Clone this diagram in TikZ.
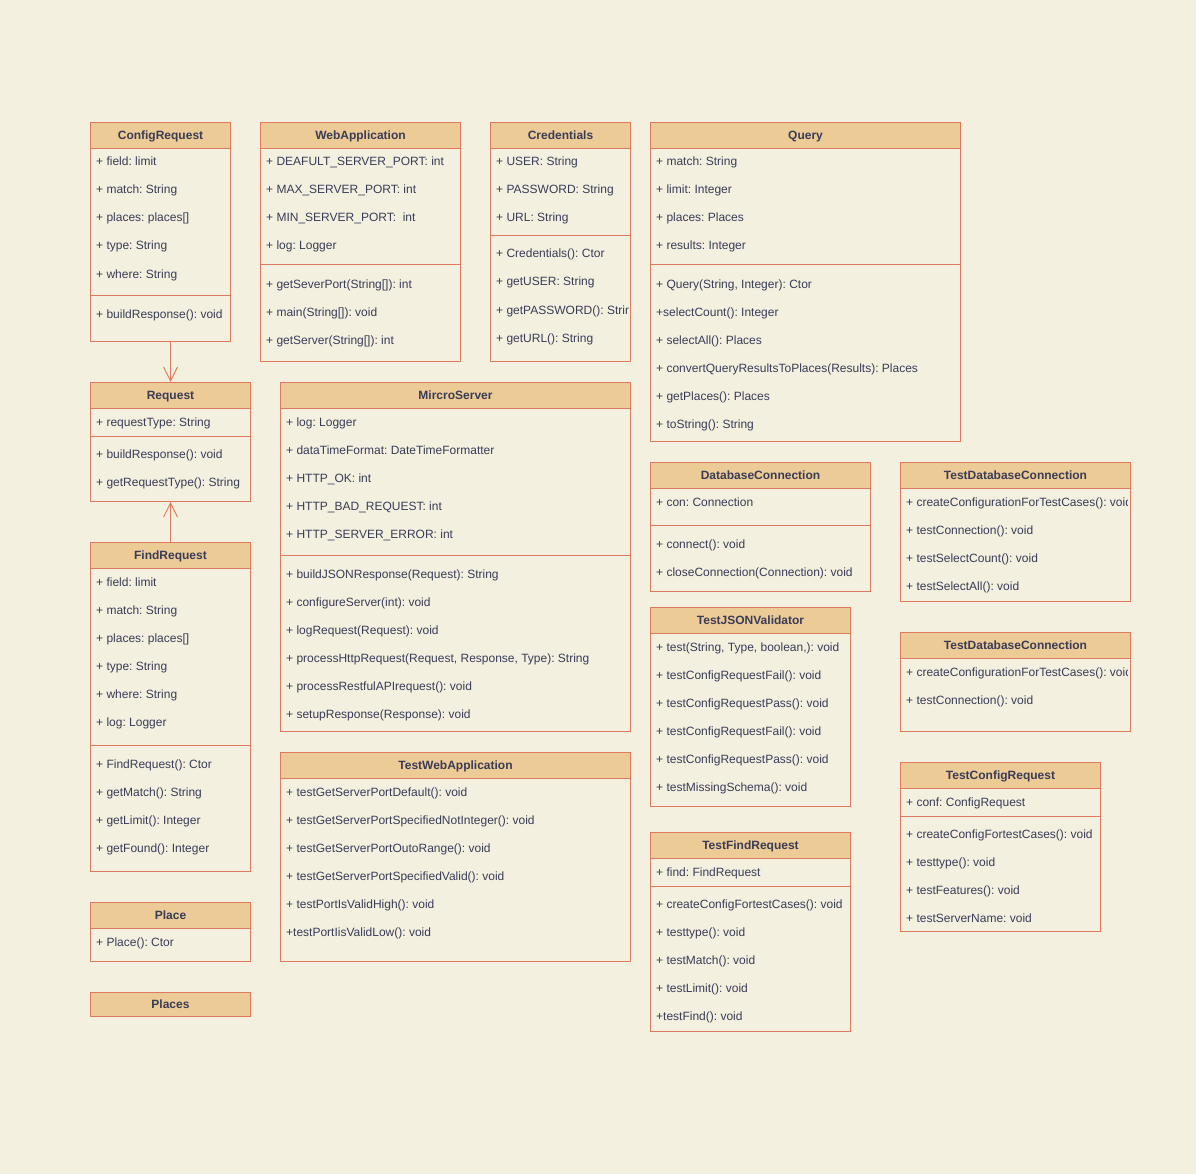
\documentclass[tikz,border=0pt]{standalone}
\usepackage{fontspec}
\setmainfont{Liberation Sans}
\usetikzlibrary{arrows.meta}
\frenchspacing
\definecolor{bgc}{HTML}{F3F0E0}
\definecolor{hdc}{HTML}{EDCB96}
\definecolor{bdc}{HTML}{E07A5F}
\definecolor{txc}{HTML}{393C56}
\tikzset{
  clsbox/.style={draw=bdc, line width=1pt, fill=bgc, inner sep=0pt},
  clshead/.style={draw=bdc, line width=1pt, fill=hdc, inner sep=0pt, minimum height=26pt, text height=10pt, text depth=2pt, text=txc, font=\fontsize{12}{14}\selectfont\bfseries},
  clsrow/.style={inner sep=0pt, text=txc, font=\fontsize{12}{14}\selectfont},
  clsline/.style={draw=bdc, line width=1pt},
  assoc/.style={draw=bdc, line width=1pt, -{Straight Barb[length=14pt,width=14pt]}}
}
\newcommand\umlcls[6]{%
  \node[clsbox, minimum width=#4pt, minimum height=#5pt, anchor=north west] (#1) at (#2,#3) {};
  \node[clshead, minimum width=#4pt, anchor=north west] (#1-title) at (#2,#3) {#6};
}
\newcommand\umlrow[4]{\node[clsrow, anchor=base west] (#1) at (#2+6,#3+5) {#4};}
\newcommand\umlsep[2]{\draw[clsline] (#1.west |- 0,#2) -- (#1.east |- 0,#2);}
\begin{document}
\begin{tikzpicture}[x=1pt,y=-1pt]
\fill[bgc] (0,0) rectangle (1196,1174);
\useasboundingbox (0,0) rectangle (1196,1174);

% ConfigRequest
\umlcls{cfg}{90}{122}{140}{219}{ConfigRequest}
\umlrow{cfg-1}{90}{161}{+ field: limit}
\umlrow{cfg-2}{90}{189}{+ match: String}
\umlrow{cfg-3}{90}{217}{+ places: places[]}
\umlrow{cfg-4}{90}{245}{+ type: String}
\umlrow{cfg-5}{90}{273}{+ where: String}
\umlsep{cfg}{295}
\umlrow{cfg-6}{90}{313}{+ buildResponse(): void}

% WebApplication
\umlcls{web}{260}{122}{200}{239}{WebApplication}
\umlrow{web-1}{260}{161}{+ DEAFULT\_SERVER\_PORT: int}
\umlrow{web-2}{260}{189}{+ MAX\_SERVER\_PORT: int}
\umlrow{web-3}{260}{217}{+ MIN\_SERVER\_PORT:\ \ int}
\umlrow{web-4}{260}{245}{+ log: Logger}
\umlsep{web}{265}
\umlrow{web-5}{260}{283}{+ getSeverPort(String[]): int}
\umlrow{web-6}{260}{311}{+ main(String[]): void}
\umlrow{web-7}{260}{339}{+ getServer(String[]): int}

% Credentials
\umlcls{cred}{490}{122}{140}{239}{Credentials}
\begin{scope}
\clip (491,148) rectangle (628,360);
\umlrow{cred-1}{490}{161}{+ USER: String}
\umlrow{cred-2}{490}{189}{+ PASSWORD: String}
\umlrow{cred-3}{490}{217}{+ URL: String}
\umlrow{cred-4}{490}{253}{+ Credentials(): Ctor}
\umlrow{cred-5}{490}{281}{+ getUSER: String}
\umlrow{cred-6}{490}{309}{+ getPASSWORD(): String}
\umlrow{cred-7}{490}{337}{+ getURL(): String}
\end{scope}
\umlsep{cred}{236}

% Query
\umlcls{query}{650}{122}{310}{319}{Query}
\umlrow{query-1}{650}{161}{+ match: String}
\umlrow{query-2}{650}{189}{+ limit: Integer}
\umlrow{query-3}{650}{217}{+ places: Places}
\umlrow{query-4}{650}{245}{+ results: Integer}
\umlsep{query}{265}
\umlrow{query-5}{650}{283}{+ Query(String, Integer): Ctor}
\umlrow{query-6}{650}{311}{+selectCount(): Integer}
\umlrow{query-7}{650}{339}{+ selectAll(): Places}
\umlrow{query-8}{650}{367}{+ convertQueryResultsToPlaces(Results): Places}
\umlrow{query-9}{650}{395}{+ getPlaces(): Places}
\umlrow{query-10}{650}{423}{+ toString(): String}

% Request
\umlcls{req}{90}{382}{160}{119}{Request}
\umlrow{req-1}{90}{421}{+ requestType: String}
\umlsep{req}{436}
\umlrow{req-2}{90}{453}{+ buildResponse(): void}
\umlrow{req-3}{90}{481}{+ getRequestType(): String}

% MircroServer
\umlcls{ms}{280}{382}{350}{349}{MircroServer}
\umlrow{ms-1}{280}{421}{+ log: Logger}
\umlrow{ms-2}{280}{449}{+ dataTimeFormat: DateTimeFormatter}
\umlrow{ms-3}{280}{477}{+ HTTP\_OK: int}
\umlrow{ms-4}{280}{505}{+ HTTP\_BAD\_REQUEST: int}
\umlrow{ms-5}{280}{533}{+ HTTP\_SERVER\_ERROR: int}
\umlsep{ms}{555}
\umlrow{ms-6}{280}{573}{+ buildJSONResponse(Request): String}
\umlrow{ms-7}{280}{601}{+ configureServer(int): void}
\umlrow{ms-8}{280}{629}{+ logRequest(Request): void}
\umlrow{ms-9}{280}{657}{+ processHttpRequest(Request, Response, Type): String}
\umlrow{ms-10}{280}{685}{+ processRestfulAPIrequest(): void}
\umlrow{ms-11}{280}{713}{+ setupResponse(Response): void}

% FindRequest
\umlcls{find}{90}{542}{160}{329}{FindRequest}
\umlrow{find-1}{90}{581}{+ field: limit}
\umlrow{find-2}{90}{609}{+ match: String}
\umlrow{find-3}{90}{637}{+ places: places[]}
\umlrow{find-4}{90}{665}{+ type: String}
\umlrow{find-5}{90}{693}{+ where: String}
\umlrow{find-6}{90}{721}{+ log: Logger}
\umlsep{find}{745}
\umlrow{find-7}{90}{763}{+ FindRequest(): Ctor}
\umlrow{find-8}{90}{791}{+ getMatch(): String}
\umlrow{find-9}{90}{819}{+ getLimit(): Integer}
\umlrow{find-10}{90}{847}{+ getFound(): Integer}

% Place
\umlcls{place}{90}{902}{160}{59}{Place}
\umlrow{place-1}{90}{941}{+ Place(): Ctor}

% Places
\node[clshead, minimum width=160pt, minimum height=24pt, anchor=north west] (places) at (90,992) {Places};

% TestWebApplication
\umlcls{twa}{280}{752}{350}{209}{TestWebApplication}
\umlrow{twa-1}{280}{791}{+ testGetServerPortDefault(): void}
\umlrow{twa-2}{280}{819}{+ testGetServerPortSpecifiedNotInteger(): void}
\umlrow{twa-3}{280}{847}{+ testGetServerPortOutoRange(): void}
\umlrow{twa-4}{280}{875}{+ testGetServerPortSpecifiedValid(): void}
\umlrow{twa-5}{280}{903}{+ testPortIsValidHigh(): void}
\umlrow{twa-6}{280}{931}{+testPortIisValidLow(): void}

% DatabaseConnection
\umlcls{db}{650}{462}{220}{129}{DatabaseConnection}
\umlrow{db-1}{650}{501}{+ con: Connection}
\umlsep{db}{525}
\umlrow{db-2}{650}{543}{+ connect(): void}
\umlrow{db-3}{650}{571}{+ closeConnection(Connection): void}

% TestDatabaseConnection 1
\umlcls{tdb1}{900}{462}{230}{139}{TestDatabaseConnection}
\begin{scope}
\clip (901,488) rectangle (1127,600);
\umlrow{tdb1-1}{900}{501}{+ createConfigurationForTestCases(): void}
\umlrow{tdb1-2}{900}{529}{+ testConnection(): void}
\umlrow{tdb1-3}{900}{557}{+ testSelectCount(): void}
\umlrow{tdb1-4}{900}{585}{+ testSelectAll(): void}
\end{scope}

% TestDatabaseConnection 2
\umlcls{tdb2}{900}{632}{230}{99}{TestDatabaseConnection}
\begin{scope}
\clip (901,658) rectangle (1127,730);
\umlrow{tdb2-1}{900}{671}{+ createConfigurationForTestCases(): void}
\umlrow{tdb2-2}{900}{699}{+ testConnection(): void}
\end{scope}

% TestJSONValidator
\umlcls{tjv}{650}{607}{200}{199}{TestJSONValidator}
\umlrow{tjv-1}{650}{646}{+ test(String, Type, boolean,): void}
\umlrow{tjv-2}{650}{674}{+ testConfigRequestFail(): void}
\umlrow{tjv-3}{650}{702}{+ testConfigRequestPass(): void}
\umlrow{tjv-4}{650}{730}{+ testConfigRequestFail(): void}
\umlrow{tjv-5}{650}{758}{+ testConfigRequestPass(): void}
\umlrow{tjv-6}{650}{786}{+ testMissingSchema(): void}

% TestFindRequest
\umlcls{tfr}{650}{832}{200}{199}{TestFindRequest}
\umlrow{tfr-1}{650}{871}{+ find: FindRequest}
\umlsep{tfr}{886}
\umlrow{tfr-2}{650}{903}{+ createConfigFortestCases(): void}
\umlrow{tfr-3}{650}{931}{+ testtype(): void}
\umlrow{tfr-4}{650}{959}{+ testMatch(): void}
\umlrow{tfr-5}{650}{987}{+ testLimit(): void}
\umlrow{tfr-6}{650}{1015}{+testFind(): void}

% TestConfigRequest
\umlcls{tcr}{900}{762}{200}{169}{TestConfigRequest}
\umlrow{tcr-1}{900}{801}{+ conf: ConfigRequest}
\umlsep{tcr}{816}
\umlrow{tcr-2}{900}{833}{+ createConfigFortestCases(): void}
\umlrow{tcr-3}{900}{861}{+ testtype(): void}
\umlrow{tcr-4}{900}{889}{+ testFeatures(): void}
\umlrow{tcr-5}{900}{917}{+ testServerName: void}

% connectors
\coordinate (cfgout) at (req.north |- cfg.south);
\draw[assoc] (cfgout) -- (req.north);
\draw[assoc] (find.north) -- (req.south);
\end{tikzpicture}
\end{document}
